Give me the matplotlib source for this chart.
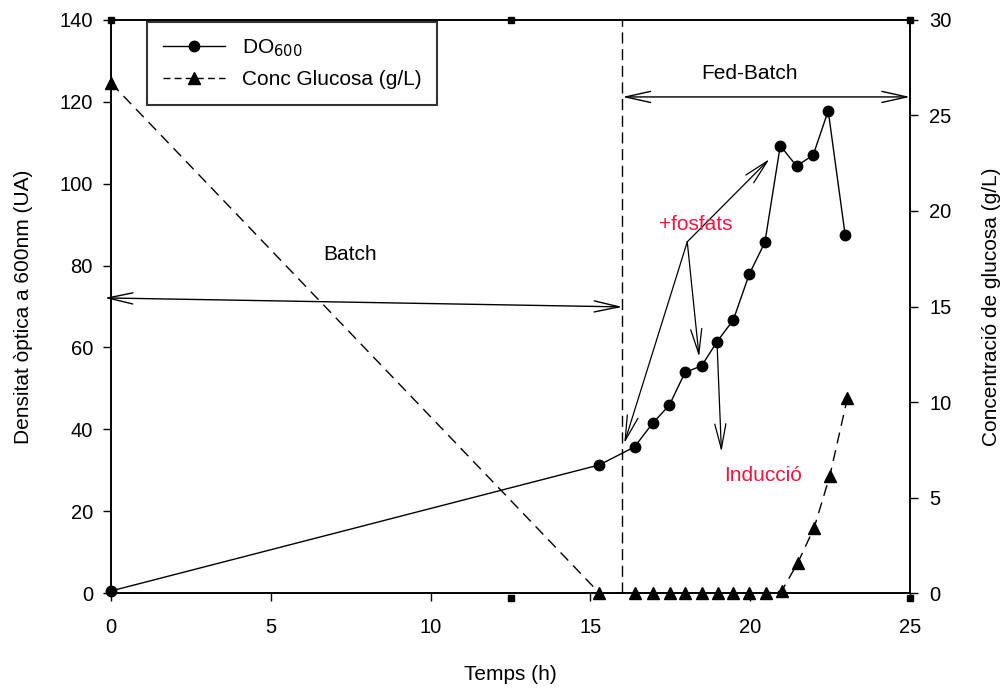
import matplotlib
matplotlib.use('Agg')
import matplotlib.pyplot as plt
from matplotlib.lines import Line2D

plt.rcParams['font.family'] = ['Liberation Sans', 'DejaVu Sans']

# ==========================================
# data
# ==========================================
do_time = [0, 15.28, 16.38, 16.95, 17.47, 17.96, 18.48, 18.96, 19.47, 19.97, 20.46, 20.94, 21.45, 21.97, 22.44, 22.97]
do_600 = [0.5, 31.3, 35.7, 41.5, 45.9, 53.9, 55.5, 61.4, 66.7, 77.9, 85.7, 109.3, 104.3, 107, 117.8, 87.5]

glc_time = [0, 15.28, 16.38, 16.95, 17.49, 17.97, 18.49, 18.98, 19.47, 19.97, 20.49, 20.98, 21.48, 22.0, 22.49, 23.04]
glc_conc = [26.7, 0, 0, 0, 0, 0, 0, 0, 0, 0, 0, 0.1, 1.55, 3.42, 6.13, 10.2]

x_ticks = [0, 5, 10, 15, 20, 25]
left_ticks = [0, 20, 40, 60, 80, 100, 120, 140]
right_ticks = [0, 5, 10, 15, 20, 25, 30]

feed_start = 16
RED = '#f5143c'
FS = 15

fig = plt.figure(figsize=(10.03, 6.89), dpi=100)
ax = fig.add_axes([0.1107, 0.1393, 0.7966, 0.8317])
ax2 = ax.twinx()

ax.plot(do_time, do_600, color='black', lw=1.0, marker='o', ms=7.5, zorder=3, clip_on=False)
ax2.plot(glc_time, glc_conc, color='black', lw=1.0, ls=(0, (8, 5)), marker='^', ms=8.5, zorder=3, clip_on=False)

ax.axvline(feed_start, color='black', lw=1.0, ls=(0, (8, 4)))

ax.set_xlim(0, 25)
ax.set_ylim(0, 140)
ax2.set_ylim(0, 30)
ax.set_xticks(x_ticks)
ax.set_yticks(left_ticks)
ax2.set_yticks(right_ticks)

for a in (ax, ax2):
    a.tick_params(labelsize=14.5, length=6, width=1, direction='out')
    for s in a.spines.values():
        s.set_linewidth(1.2)
ax.tick_params(axis='x', pad=12)
ax.tick_params(axis='y', pad=7)
ax2.tick_params(axis='y', pad=8)

ax.set_xlabel('Temps (h)', fontsize=FS, labelpad=20)
ax.set_ylabel('Densitat òptica a 600nm (UA)', fontsize=FS, labelpad=19)
ax2.set_ylabel('Concentració de glucosa (g/L)', fontsize=FS, labelpad=22)

# small square marks on spines
ax.plot([0, 12.5, 25], [140, 140, 140], 's', color='black', ms=4, clip_on=False, zorder=5)
ax.plot([12.5, 25], [-1.2, -1.2], 's', color='black', ms=4, clip_on=False, zorder=5)

# phase arrows
head = '<->,head_length=1.8,head_width=0.4'
ax.annotate('', xy=(-0.2, 72.1), xytext=(16.0, 69.9), annotation_clip=False,
            arrowprops=dict(arrowstyle=head, color='black', lw=1.0, shrinkA=0, shrinkB=0))
ax.text(7.47, 82.8, 'Batch', fontsize=FS, ha='center', va='center')
ax.annotate('', xy=(16.0, 121.2), xytext=(25.0, 121.2), annotation_clip=False,
            arrowprops=dict(arrowstyle=head, color='black', lw=1.0, shrinkA=0, shrinkB=0))
ax.text(19.97, 127, 'Fed-Batch', fontsize=FS, ha='center', va='center')

# +fosfats / Induccio arrows
one = '->,head_length=1.8,head_width=0.4'
src = (18.03, 85.8)
for tgt in [(20.6, 106), (16.06, 36.6), (18.4, 57.7)]:
    ax.annotate('', xy=tgt, xytext=src,
                arrowprops=dict(arrowstyle=one, color='black', lw=0.9, shrinkA=0, shrinkB=0))
ax.text(18.3, 90, '+fosfats', fontsize=FS, color=RED, ha='center', va='center')
ax.annotate('', xy=(19.1, 34.5), xytext=(18.96, 61.4),
            arrowprops=dict(arrowstyle=one, color='black', lw=0.9, shrinkA=0, shrinkB=0))
ax.text(20.4, 28.8, 'Inducció', fontsize=FS, color=RED, ha='center', va='center')

handles = [
    Line2D([], [], color='black', lw=1.0, marker='o', ms=7.5),
    Line2D([], [], color='black', lw=1.0, ls=(0, (5, 3)), marker='^', ms=8.5),
]
leg = ax.legend(handles, ['DO$_{600}$', 'Conc Glucosa (g/L)'], loc='upper left',
                bbox_to_anchor=(0.045, 0.997), borderaxespad=0, fontsize=FS,
                handlelength=3, handletextpad=0.8, frameon=True, fancybox=False,
                borderpad=0.75, labelspacing=0.55)
leg.get_frame().set_edgecolor('black')
leg.get_frame().set_linewidth(1.5)

fig.savefig('out.png', dpi=100)
